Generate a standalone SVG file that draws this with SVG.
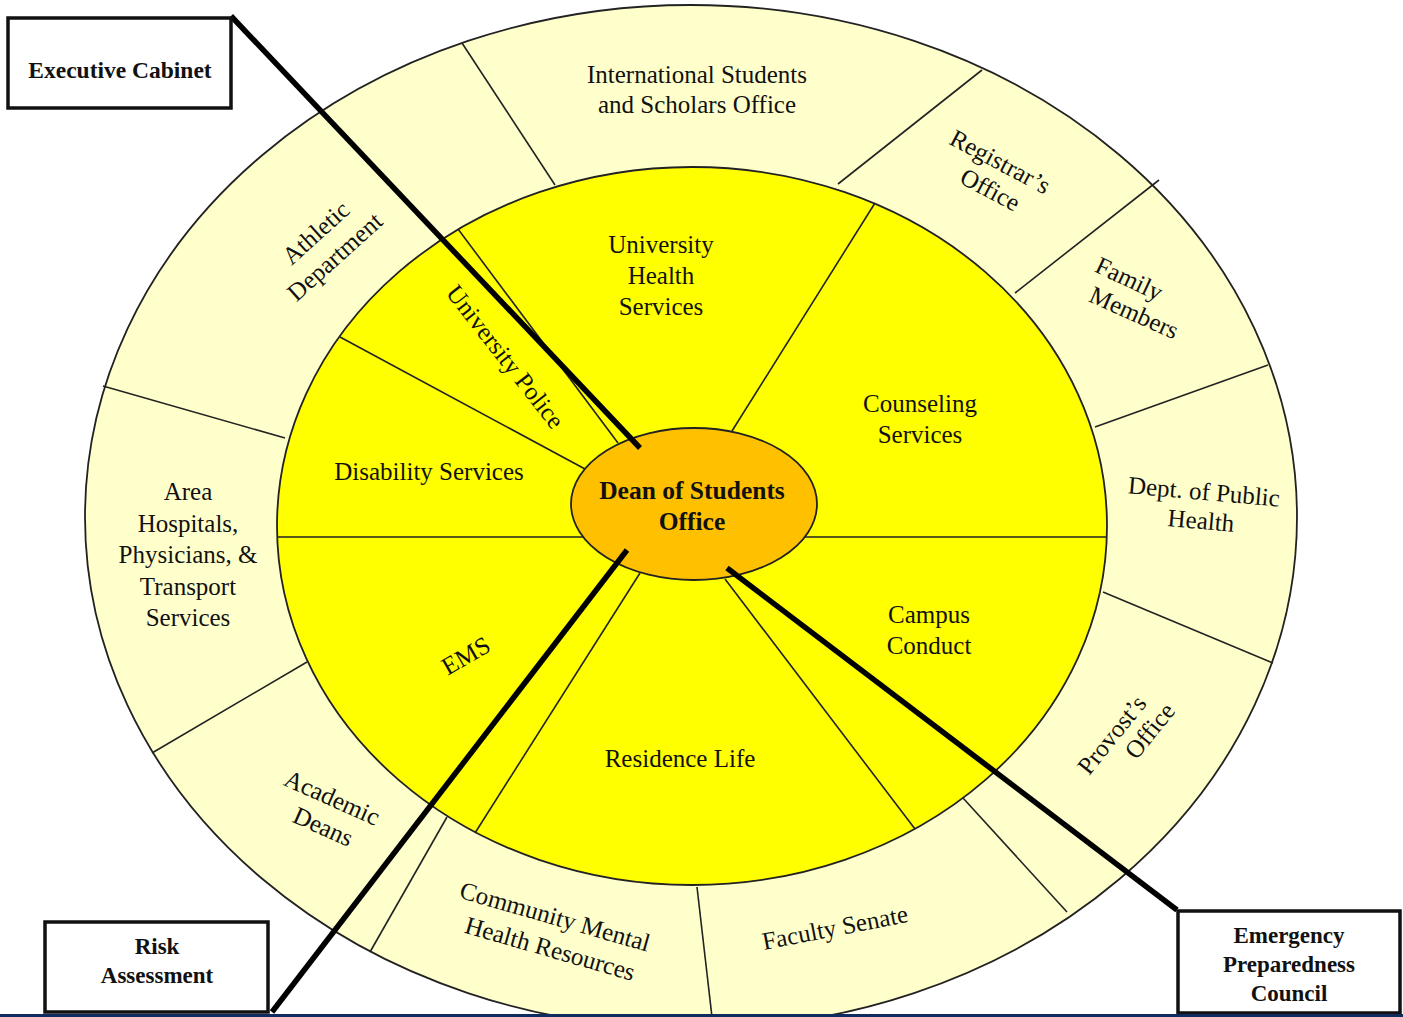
<svg xmlns="http://www.w3.org/2000/svg" width="1403" height="1017" viewBox="0 0 1403 1017">
<style>
.t{font-family:"Liberation Serif","Times New Roman",serif;font-size:25px;fill:#111;text-anchor:middle}
.b{font-family:"Liberation Serif","Times New Roman",serif;font-weight:bold;fill:#111;text-anchor:middle}
.sp{stroke:#222;stroke-width:1.6;fill:none}
.ring{stroke:#222;stroke-width:1.8}
.thick{stroke:#000;stroke-width:5.5;stroke-linecap:butt;fill:none}
.box{fill:#fff;stroke:#111;stroke-width:3.5}
</style>
<rect width="1403" height="1017" fill="#fff"/>
<g id="outer-ring">
<ellipse class="ring" cx="691" cy="517" rx="606" ry="512" fill="#FFFFCC"/>
</g>
<g id="outer-spokes">
<line class="sp" x1="462" y1="43" x2="555" y2="185"/>
<line class="sp" x1="838" y1="184" x2="982" y2="70"/>
<line class="sp" x1="1015" y1="293" x2="1159" y2="180"/>
<line class="sp" x1="1095" y1="427" x2="1268" y2="365"/>
<line class="sp" x1="1103" y1="592" x2="1273" y2="663"/>
<line class="sp" x1="963" y1="798" x2="1067" y2="912"/>
<line class="sp" x1="697" y1="887" x2="712" y2="1017"/>
<line class="sp" x1="447" y1="817" x2="370" y2="952"/>
<line class="sp" x1="307" y1="662" x2="152" y2="753"/>
<line class="sp" x1="285" y1="438" x2="103" y2="386"/>
</g>
<g id="inner-ring">
<ellipse class="ring" cx="692" cy="526" rx="415" ry="359" fill="#FFFF00"/>
</g>
<g id="inner-spokes">
<line class="sp" x1="458" y1="229" x2="618" y2="443"/>
<line class="sp" x1="340" y1="337" x2="585" y2="469"/>
<line class="sp" x1="277" y1="537" x2="583" y2="537"/>
<line class="sp" x1="640" y1="573" x2="475" y2="833"/>
<line class="sp" x1="725" y1="579" x2="915" y2="829"/>
<line class="sp" x1="805" y1="537" x2="1107" y2="537"/>
<line class="sp" x1="875" y1="203" x2="732" y2="431"/>
</g>
<g id="dean-of-students-office">
<ellipse class="ring" cx="694" cy="504" rx="123" ry="76" fill="#FFC000"/>
<text class="b" font-size="25.5"><tspan x="692" y="499">Dean of Students</tspan><tspan x="692" y="530">Office</tspan></text>
</g>
<g id="international-students">
<text class="t"><tspan x="697" y="83">International Students</tspan><tspan x="697" y="113">and Scholars Office</tspan></text>
</g>
<g id="registrars-office">
<text class="t" transform="translate(1000,162) rotate(28)" y="8">Registrar’s</text>
<text class="t" transform="translate(990,190) rotate(28)" y="8">Office</text>
</g>
<g id="family-members">
<text class="t" transform="translate(1129,279) rotate(25)" y="8">Family</text>
<text class="t" transform="translate(1134,313) rotate(24)" y="8">Members</text>
</g>
<g id="dept-public-health">
<text class="t" transform="translate(1204,492) rotate(5)" y="8">Dept. of Public</text>
<text class="t" transform="translate(1201,521) rotate(5)" y="8">Health</text>
</g>
<g id="provosts-office">
<text class="t" transform="translate(1112,735) rotate(-51)" y="8">Provost’s</text>
<text class="t" transform="translate(1150,731) rotate(-51)" y="8">Office</text>
</g>
<g id="faculty-senate">
<text class="t" transform="translate(835,928) rotate(-11)" y="8">Faculty Senate</text>
</g>
<g id="community-mental-health">
<text class="t" transform="translate(555,917) rotate(16)" y="8">Community Mental</text>
<text class="t" transform="translate(550,949) rotate(16)" y="8">Health Resources</text>
</g>
<g id="academic-deans">
<text class="t" transform="translate(332,798) rotate(24)" y="8">Academic</text>
<text class="t" transform="translate(323,827) rotate(24)" y="8">Deans</text>
</g>
<g id="area-hospitals">
<text class="t"><tspan x="188" y="500">Area</tspan><tspan x="188" y="532">Hospitals,</tspan><tspan x="188" y="563">Physicians, &amp;</tspan><tspan x="188" y="595">Transport</tspan><tspan x="188" y="626">Services</tspan></text>
</g>
<g id="athletic-department">
<text class="t" transform="translate(316,233) rotate(-42)" y="8">Athletic</text>
<text class="t" transform="translate(335,257) rotate(-42)" y="8">Department</text>
</g>
<g id="university-health-services">
<text class="t"><tspan x="661" y="253">University</tspan><tspan x="661" y="284">Health</tspan><tspan x="661" y="315">Services</tspan></text>
</g>
<g id="counseling-services">
<text class="t"><tspan x="920" y="412">Counseling</tspan><tspan x="920" y="443">Services</tspan></text>
</g>
<g id="campus-conduct">
<text class="t"><tspan x="929" y="623">Campus</tspan><tspan x="929" y="654">Conduct</tspan></text>
</g>
<g id="residence-life">
<text class="t" x="680" y="767">Residence Life</text>
</g>
<g id="ems">
<text class="t" transform="translate(466,656) rotate(-30)" y="8">EMS</text>
</g>
<g id="disability-services">
<text class="t" x="429" y="480">Disability Services</text>
</g>
<g id="university-police">
<text class="t" transform="translate(505,357) rotate(52)" y="8">University Police</text>
</g>
<g id="connectors">
<line class="thick" x1="231" y1="16" x2="640" y2="448"/>
<line class="thick" x1="272" y1="1012" x2="627" y2="550"/>
<line class="thick" x1="1177" y1="910" x2="727" y2="568"/>
</g>
<g id="executive-cabinet">
<rect class="box" x="8" y="18" width="223" height="90"/>
<text class="b" font-size="23.5" x="120" y="78">Executive Cabinet</text>
</g>
<g id="risk-assessment">
<rect class="box" x="45" y="922" width="223" height="90"/>
<text class="b" font-size="23"><tspan x="157" y="954">Risk</tspan><tspan x="157" y="983">Assessment</tspan></text>
</g>
<g id="emergency-preparedness-council">
<rect class="box" x="1178" y="911" width="222" height="102"/>
<text class="b" font-size="23"><tspan x="1289" y="943">Emergency</tspan><tspan x="1289" y="972">Preparedness</tspan><tspan x="1289" y="1001">Council</tspan></text>
</g>
<rect x="0" y="1014" width="1403" height="3" fill="#0e2d5e"/>
</svg>
